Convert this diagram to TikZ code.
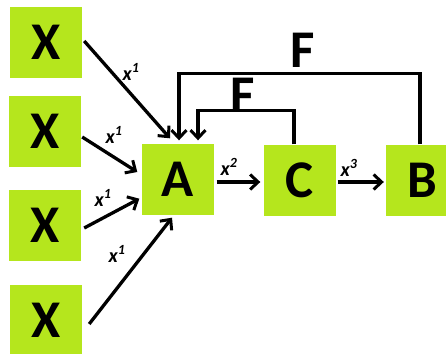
\documentclass[tikz,border=0pt]{standalone}
\usepackage{fontspec}
\setmainfont{Carlito}
\usetikzlibrary{arrows.meta}
\definecolor{lime}{HTML}{B5E61D}
\tikzset{
  box/.style={fill=lime, minimum width=72pt, minimum height=71pt, inner sep=0pt,
    font=\fontsize{53}{53}\selectfont\bfseries},
  arr/.style={line width=3.3pt, -{Straight Barb[length=8pt,width=15pt,line width=3pt]}},
  lbl/.style={inner sep=0pt, font=\fontsize{20}{20}\selectfont\bfseries\itshape},
  flbl/.style={inner sep=0pt, font=\fontsize{53}{53}\selectfont\bfseries},
}
\begin{document}
\begin{tikzpicture}[x=1pt,y=-1pt]
\useasboundingbox (0,0) rectangle (446,353);
% input boxes
\node[box] (X1) at (46,42.5) {X};
\node[box] (X2) at (45,131) {X};
\node[box] (X3) at (45,225) {X};
\node[box] (X4) at (46,320) {X};
% chain
\node[box] (A) at (177.5,179) {A};
\node[box] (C) at (299.5,180) {C};
\node[box] (B) at (422,180) {B};
% inputs into A
\draw[arr] ([shift={(2,-1.5)}]X1.east) -- ([shift={(-7.5,-5)}]A.north);
\draw[arr] ([shift={(1,6)}]X2.east) -- ([shift={(-4,-7)}]A.west);
\draw[arr] ([shift={(3,3)}]X3.east) -- ([shift={(-2,-16)}]A.south west);
\draw[arr] ([shift={(7,4)}]X4.east) -- ([shift={(-5.5,3)}]A.south);
% forward chain
\draw[arr] ([shift={(3,3)}]A.east) -- ([shift={(-3,2)}]C.west);
\draw[arr] ([shift={(2,2)}]C.east) -- ([shift={(-2,2)}]B.west);
% feedback loops
\draw[arr] ([xshift=-2pt]B.north) -- ++(0,-71) -| ([shift={(1.5,-3)}]A.north);
\draw[arr] ([xshift=-5.5pt]C.north) -- ++(0,-34) -| ([shift={(20.5,-3)}]A.north);
% labels
\node[flbl] (F1) at (303,50) {F};
\node[flbl] (F2) at (243,95) {F};
\node[lbl] (l1) at (131,72) {x\textsuperscript{1}};
\node[lbl] (l2) at (114,135) {x\textsuperscript{1}};
\node[lbl] (l3) at (103,198) {x\textsuperscript{1}};
\node[lbl] (l4) at (117,254) {x\textsuperscript{1}};
\node[lbl] (l5) at (229,167) {x\textsuperscript{2}};
\node[lbl] (l6) at (349,168) {x\textsuperscript{3}};
\end{tikzpicture}
\end{document}
